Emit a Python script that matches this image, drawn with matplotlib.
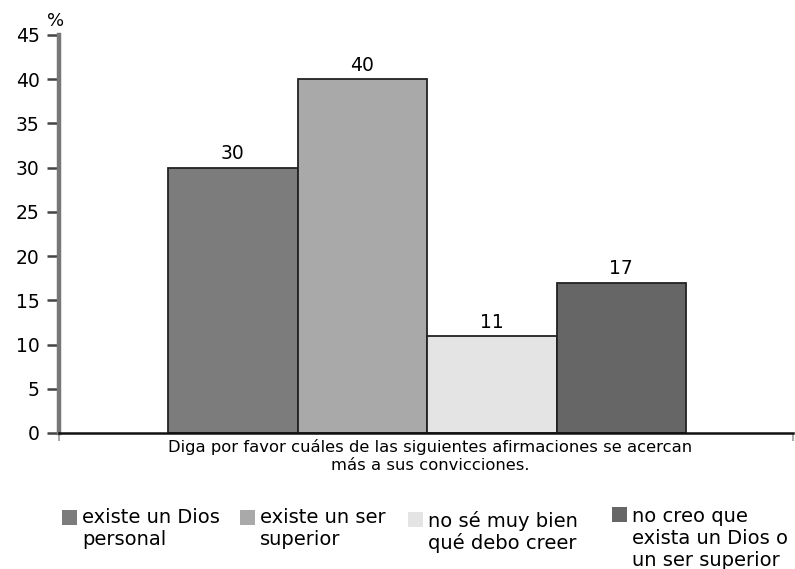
import matplotlib.pyplot as plt
from matplotlib.patches import Rectangle

plt.rcParams['font.family'] = ['DejaVu Sans']

categories = ["existe un Dios\npersonal", "existe un ser\nsuperior",
              "no sé muy bien\nqué debo creer", "no creo que\nexista un Dios o\nun ser superior"]
values = [30, 40, 11, 17]
bar_colors = ['#7c7c7c', '#a9a9a9', '#e4e4e4', '#666666']
yticks = [0, 5, 10, 15, 20, 25, 30, 35, 40, 45]
xlabel_lines = ["Diga por favor cuáles de las siguientes afirmaciones se acercan",
                "más a sus convicciones."]

W, H = 795, 569
fig = plt.figure(figsize=(W / 100, H / 100), dpi=100)
ax = fig.add_axes([59/W, 1 - 433/H, 734/W, 398/H])

x = list(range(len(values)))
ax.bar(x, values, width=1.0, color=bar_colors, edgecolor='#222222', linewidth=1.3)
for xi, v in zip(x, values):
    ax.annotate(str(v), (xi, v), xytext=(0, 3), textcoords='offset points',
                ha='center', va='bottom', fontsize=13.5)

ax.set_xlim(-1.342, 4.326)
ax.set_ylim(0, 45)
ax.set_yticks(yticks)
ax.tick_params(axis='y', labelsize=13.5, length=9, width=1.8, color='#444444', pad=5)
ax.set_xticks([-1.342, 4.326])
ax.set_xticklabels(['', ''])
ax.tick_params(axis='x', length=6, width=1.2, color='#999999')
for s in ['top', 'right']:
    ax.spines[s].set_visible(False)
ax.spines['left'].set_linewidth(3.2)
ax.spines['left'].set_color('#777777')
ax.spines['bottom'].set_linewidth(1.8)
ax.spines['bottom'].set_color('#111111')

fig.text(56/W, 1 - 26/H, '%', fontsize=13, ha='center', va='baseline')
for line, by in zip(xlabel_lines, [452, 470]):
    fig.text(430/W, 1 - by/H, line, ha='center', va='baseline', fontsize=11.8)

# legend drawn by hand: square (x, y top), text x, first baseline
leg_sq = [(62, 510), (240, 510), (408, 512), (612, 507)]
leg_tx = [82, 260, 428, 632]
leg_base = [523, 523, 527, 522]
for (sx, sy), tx, by, c, lab in zip(leg_sq, leg_tx, leg_base, bar_colors, categories):
    fig.patches.append(Rectangle((sx/W, 1 - (sy + 15)/H), 15/W, 15/H,
                                 transform=fig.transFigure, facecolor=c, edgecolor='none'))
    for k, line in enumerate(lab.split("\n")):
        fig.text(tx/W, 1 - (by + 22 * k)/H, line, ha='left', va='baseline', fontsize=14)

fig.savefig('out.png', dpi=100)
